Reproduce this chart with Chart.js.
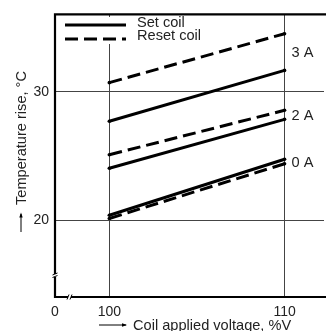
<!DOCTYPE html>
<html>
<head>
<meta charset="utf-8">
<script src="https://cdn.jsdelivr.net/npm/chart.js@4.4.1/dist/chart.umd.min.js"></script>
<style>
  html, body { margin: 0; padding: 0; background: #fff; overflow: hidden; }
  #wrap { width: 328px; height: 331px; position: relative; }
</style>
</head>
<body>
<div id="wrap"><canvas id="tempRiseChart"></canvas></div>
<script>
// coil applied voltage (%V) and temperature rise (°C)
const voltages = [100, 110];
const set3A = [27.7, 31.65];
const reset3A = [30.7, 34.5];
const set2A = [24.05, 27.85];
const reset2A = [25.1, 28.55];
const set0A = [20.4, 24.75];
const reset0A = [20.15, 24.4];

const xTicks = [100, 110];
const yTicks = [20, 30];
const currentLabels = ['3 A', '2 A', '0 A'];

const X_MIN = 96.9, X_MAX = 112.25;
const Y_MIN = 14.05, Y_MAX = 36;
const FONT = '14.6px "Liberation Sans", Arial, sans-serif';
const TEXT = '#222';

function pts(ys) {
    return voltages.map((v, i) => ({ x: v, y: ys[i] }));
}

function series(label, ys, dashed) {
    return {
        label: label,
        data: pts(ys),
        borderColor: '#000',
        backgroundColor: '#000',
        borderWidth: 3,
        borderDash: dashed ? [13, 6] : [],
        pointRadius: 1.8,
        pointBackgroundColor: '#000',
        pointBorderWidth: 0,
        tension: 0,
        fill: false
    };
}

// frame, axis breaks, titles, legend and current labels
const overlay = {
    id: 'overlay',
    afterDraw(chart) {
        const ctx = chart.ctx;
        const a = chart.chartArea;
        const xs = chart.scales.x, ys = chart.scales.y;
        ctx.save();

        // frame (top, left, bottom)
        ctx.strokeStyle = '#000';
        ctx.lineWidth = 2.2;
        ctx.beginPath();
        ctx.moveTo(a.right + 2, a.top);
        ctx.lineTo(a.left, a.top);
        ctx.lineTo(a.left, a.bottom);
        ctx.lineTo(a.right + 2, a.bottom);
        ctx.stroke();

        // axis break marks
        ctx.fillStyle = '#fff';
        ctx.fillRect(a.left - 2, a.bottom - 23, 4, 3);
        ctx.fillRect(a.left + 13, a.bottom - 2, 3, 4);
        ctx.lineWidth = 1;
        ctx.beginPath();
        ctx.moveTo(a.left - 2.5, a.bottom - 22); ctx.lineTo(a.left + 2.5, a.bottom - 24);
        ctx.moveTo(a.left - 2.5, a.bottom - 19.5); ctx.lineTo(a.left + 2.5, a.bottom - 21.5);
        ctx.moveTo(a.left + 12, a.bottom + 2.5); ctx.lineTo(a.left + 14, a.bottom - 2.5);
        ctx.moveTo(a.left + 15, a.bottom + 2.5); ctx.lineTo(a.left + 17, a.bottom - 2.5);
        ctx.stroke();

        // legend
        ctx.fillStyle = '#fff';
        ctx.fillRect(61, 17, 140, 27);
        ctx.strokeStyle = '#000';
        ctx.lineWidth = 3;
        ctx.beginPath();
        ctx.moveTo(65, 25); ctx.lineTo(126, 25);
        ctx.stroke();
        ctx.setLineDash([13, 6]);
        ctx.beginPath();
        ctx.moveTo(65, 39); ctx.lineTo(126, 39);
        ctx.stroke();
        ctx.setLineDash([]);
        ctx.font = FONT;
        ctx.fillStyle = TEXT;
        ctx.textAlign = 'left';
        ctx.textBaseline = 'middle';
        ctx.fillText('Set coil', 137, 22.5);
        ctx.fillText('Reset coil', 137, 36);

        // current labels beside the 110 % ends
        const groups = [[set3A, reset3A], [set2A, reset2A], [set0A, reset0A]];
        groups.forEach((g, i) => {
            const yv = (g[0][1] + g[1][1]) / 2;
            ctx.fillText(currentLabels[i], xs.getPixelForValue(110) + 7, ys.getPixelForValue(yv) + 1);
        });

        // x title with arrow
        ctx.strokeStyle = '#000';
        ctx.lineWidth = 1;
        ctx.beginPath();
        ctx.moveTo(99, 325); ctx.lineTo(126, 325);
        ctx.stroke();
        ctx.beginPath();
        ctx.moveTo(127, 325); ctx.lineTo(122, 323.3); ctx.lineTo(122, 326.7); ctx.closePath();
        ctx.fillStyle = '#000';
        ctx.fill();
        ctx.fillStyle = TEXT;
        ctx.textBaseline = 'alphabetic';
        ctx.fillText('Coil applied voltage, %V', 133, 329.5);

        // y title with arrow
        ctx.beginPath();
        ctx.moveTo(21, 232); ctx.lineTo(21, 214);
        ctx.stroke();
        ctx.beginPath();
        ctx.moveTo(21, 212.5); ctx.lineTo(19.3, 217.5); ctx.lineTo(22.7, 217.5); ctx.closePath();
        ctx.fillStyle = '#000';
        ctx.fill();
        ctx.translate(21, 205);
        ctx.rotate(-Math.PI / 2);
        ctx.fillStyle = TEXT;
        ctx.textBaseline = 'middle';
        ctx.fillText('Temperature rise, \u00B0C', 0, 1);

        ctx.restore();
    }
};

const ctxEl = document.getElementById('tempRiseChart');

new Chart(ctxEl, {
    type: 'line',
    data: {
        datasets: [
            series('Set coil 3 A', set3A, false),
            series('Reset coil 3 A', reset3A, true),
            series('Set coil 2 A', set2A, false),
            series('Reset coil 2 A', reset2A, true),
            series('Set coil 0 A', set0A, false),
            series('Reset coil 0 A', reset0A, true)
        ]
    },
    options: {
        responsive: true,
        maintainAspectRatio: false,
        animation: false,
        layout: {
            padding: { top: 13, right: 0, left: 0, bottom: 0 }
        },
        plugins: {
            legend: { display: false },
            tooltip: { enabled: false }
        },
        scales: {
            x: {
                type: 'linear',
                min: X_MIN,
                max: X_MAX,
                afterBuildTicks: function(scale) {
                    scale.ticks = [X_MIN].concat(xTicks).map(v => ({ value: v }));
                },
                afterFit: function(scale) {
                    scale.height = 34;
                },
                border: { display: false },
                grid: {
                    color: '#444',
                    lineWidth: 1,
                    drawTicks: false
                },
                ticks: {
                    padding: 7,
                    color: TEXT,
                    font: { family: '"Liberation Sans", Arial, sans-serif', size: 14 },
                    maxRotation: 0,
                    autoSkip: false,
                    callback: function(value) {
                        return value === X_MIN ? '0' : value;
                    }
                }
            },
            y: {
                min: Y_MIN,
                max: Y_MAX,
                afterBuildTicks: function(scale) {
                    scale.ticks = yTicks.map(v => ({ value: v }));
                },
                afterFit: function(scale) {
                    scale.width = 55;
                },
                border: { display: false },
                grid: {
                    color: '#444',
                    lineWidth: 1,
                    drawTicks: false
                },
                ticks: {
                    padding: 6,
                    color: TEXT,
                    font: { family: '"Liberation Sans", Arial, sans-serif', size: 14 }
                }
            }
        }
    },
    plugins: [overlay]
});
</script>
</body>
</html>
